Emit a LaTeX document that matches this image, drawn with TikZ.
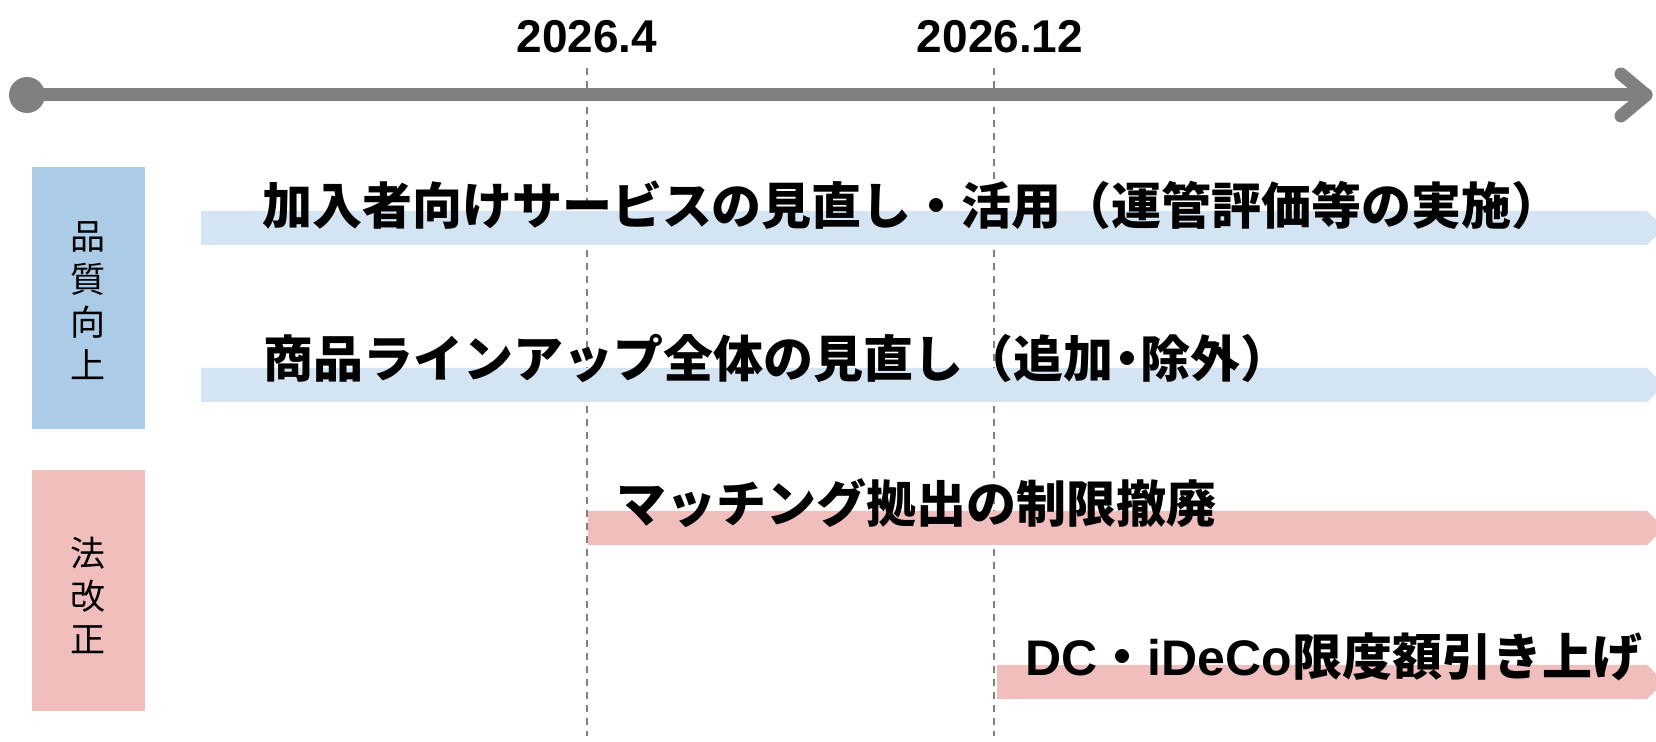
\documentclass[tikz,border=0pt]{standalone}
\usepackage{fontspec}
\setmainfont{Liberation Sans}
\newfontfamily\cjk{Noto Sans CJK JP}
\newfontfamily\lat{Liberation Sans}
\newcommand\halfdot{\makebox[0.55em][c]{・}}
\definecolor{tlgray}{RGB}{128,128,128}
\definecolor{boxblue}{RGB}{171,203,231}
\definecolor{barblue}{RGB}{212,228,243}
\definecolor{boxpink}{RGB}{241,190,190}
\definecolor{barpink}{RGB}{241,190,190}
\begin{document}
\begin{tikzpicture}[x=0.5pt,y=-0.5pt,
  timeline/.style={draw=tlgray,line width=6.5pt,line cap=round,line join=round},
  guide/.style={draw=tlgray,line width=0.8pt,dash pattern=on 3.5pt off 3pt},
  datelabel/.style={inner sep=0pt,font=\lat\bfseries\fontsize{23}{23}\selectfont},
  sidetext/.style={inner sep=0pt,align=center,font=\cjk\fontsize{17.5}{21.5}\selectfont},
  bartext/.style={inner sep=0pt,font=\cjk\bfseries\fontsize{25}{25}\selectfont},
]
\clip (0,0) rectangle (1656,742);
% guides
\coordinate (g1top) at (587,68);
\coordinate (g1bot) at (587,736);
\coordinate (g2top) at (994,68);
\coordinate (g2bot) at (994,736);
\draw[guide] (g1top) -- (g1bot);
\draw[guide] (g2top) -- (g2bot);
% timeline
\coordinate (tstart) at (27,95);
\coordinate (tend) at (1646,95);
\coordinate (ha) at (1621,74);
\coordinate (hb) at (1621,116);
\draw[timeline] (tstart) -- (tend);
\draw[timeline] (ha) -- (tend) -- (hb);
\fill[tlgray] (tstart) circle (9pt);
\node[datelabel] (d1) at (587,37) {2026.4};
\node[datelabel] (d2) at (1000,37) {2026.12};
% side boxes
\fill[boxblue] (32,167) rectangle (145,429);
\node[sidetext] (s1) at (88,301) {品\\質\\向\\上};
\fill[boxpink] (32,470) rectangle (145,711);
\node[sidetext] (s2) at (88,595) {法\\改\\正};
% bars
\fill[barblue] (201,211) -- (1647,211) -- (1664,228) -- (1647,245) -- (201,245) -- cycle;
\fill[barblue] (201,368) -- (1647,368) -- (1664,385) -- (1647,402) -- (201,402) -- cycle;
\fill[barpink] (588,511) -- (1647,511) -- (1664,528) -- (1647,545) -- (588,545) -- cycle;
\fill[barpink] (997,665) -- (1647,665) -- (1664,682) -- (1647,699) -- (997,699) -- cycle;
% bar texts
\node[bartext] (b1) at (912,205) {加入者向けサービスの見直し・活用（運管評価等の実施）};
\node[bartext] (b2) at (777,358) {商品ラインアップ全体の見直し（追加\halfdot 除外）};
\node[bartext] (b3) at (916,503) {マッチング拠出の制限撤廃};
\node[bartext] (b4) at (1334,657) {{\lat\bfseries DC}・{\lat\bfseries iDeCo}限度額引き上げ};
\end{tikzpicture}
\end{document}
